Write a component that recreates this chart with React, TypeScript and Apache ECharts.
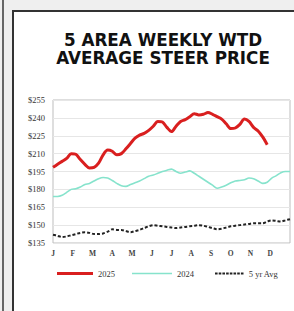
import React, { useEffect, useRef } from "react";
import * as echarts from "echarts";

const titleLines = ["5 AREA WEEKLY WTD", "AVERAGE STEER PRICE"];
const months = ["J", "F", "M", "A", "M", "J", "J", "A", "S", "O", "N", "D"];
const yTicks = [135, 150, 165, 180, 195, 210, 225, 240, 255];

// weekly values, week index 0..
const y2025 = [198.5, 201, 203.5, 206, 210, 209.5, 205, 201, 198, 198.5, 202, 209, 213, 212, 209, 210, 214, 218.5, 223, 225.5, 227, 229.5, 233, 237, 236.5, 232, 228.5, 233, 237, 238.5, 241, 243.5, 242.5, 243, 244.5, 243, 241, 239, 235, 231, 231.5, 234.5, 239, 237, 232, 229, 224, 217.5];
const y2024 = [174, 174, 175, 177.5, 180, 180.5, 182, 184, 185, 187, 189, 190, 189.5, 187.5, 185, 183, 182.5, 184, 185.5, 187, 189, 191, 192, 193.5, 195, 196, 197, 195, 193.5, 194.5, 195.5, 193.5, 191, 188.5, 186, 183.5, 181, 182, 183.5, 185.5, 187, 187.5, 188, 189.5, 189, 187, 185, 186, 189.5, 191.5, 194, 195, 195];
const y5yr = [142, 141, 140, 140.5, 141.5, 142.5, 143.5, 144, 143.5, 142.5, 142.5, 143, 144.5, 146.5, 146, 146, 145, 144, 145, 146, 147.5, 149, 150, 149.5, 149, 148.5, 148, 147.5, 148, 148.5, 149, 149.5, 150, 149.5, 148.5, 147.5, 146.5, 147, 148, 149, 149.5, 150, 150.5, 151, 151.5, 151.5, 151.5, 153, 154, 153.5, 153, 154, 155];

const toPts = (a: number[]) => a.map((v, i) => [i, v]);

// legend icons
const solidIcon = "path://M0,0H36V3H0Z";
const thinIcon = "path://M0,0H40V1.6H0Z";
const dashIcon = (() => {
  let d = "path://";
  for (let i = 0; i < 8; i++) {
    const x = i * 3.7;
    d += `M${x},0H${x + 2.6}V2H${x}Z`;
  }
  return d;
})();

export default function App() {
  const ref = useRef<HTMLDivElement>(null);
  useEffect(() => {
    document.body.style.margin = "0";
    const chart = echarts.init(ref.current!, null, { renderer: "svg" });
    const serif = "'Liberation Serif', 'DejaVu Serif', serif";
    const legendText = { fontFamily: serif, fontSize: 8.5, color: "#333" };
    const titleStyle = {
      fontFamily: "'DejaVu Sans', sans-serif",
      fontWeight: "bold",
      fontSize: 16.8,
      lineHeight: 18.4,
      color: "#111",
    };
    chart.setOption({
      animation: false,
      backgroundColor: "transparent",
      title: titleLines.map((t, i) => ({
        text: t,
        left: 158,
        top: 25.8 + i * 18.4,
        padding: 5,
        textAlign: "center",
        textStyle: titleStyle,
      })),
      grid: {
        left: 53,
        top: 100,
        right: 4,
        bottom: 68,
        show: true,
        borderColor: "#bdbdbd",
        borderWidth: 1,
        backgroundColor: "#fff",
      },
      xAxis: {
        type: "value",
        min: 0,
        max: 52,
        interval: 52 / 12,
        axisLine: { show: false },
        axisTick: { show: false },
        splitLine: { show: false },
        axisLabel: {
          fontFamily: serif,
          fontSize: 7.5,
          fontWeight: "bold",
          color: "#444",
          margin: 6,
          showMaxLabel: false,
          formatter: (v: number) => months[Math.round(v / (52 / 12))] ?? "",
        },
      },
      yAxis: {
        type: "value",
        min: yTicks[0],
        max: yTicks[yTicks.length - 1],
        interval: 15,
        axisLine: { show: false },
        axisTick: { show: false },
        splitLine: { show: true, lineStyle: { color: "#e6e6e6", width: 1 } },
        axisLabel: {
          fontFamily: serif,
          fontSize: 8.5,
          color: "#333",
          margin: 8,
          formatter: (v: number) => "$" + v,
        },
      },
      legend: [
        { left: 52, top: 264, itemWidth: 36, itemHeight: 3, icon: solidIcon, data: ["2025"], textStyle: legendText },
        { left: 127, top: 264, itemWidth: 40, itemHeight: 1.6, icon: thinIcon, data: ["2024"], textStyle: legendText },
        { left: 210, top: 264, itemWidth: 29, itemHeight: 2, icon: dashIcon, data: ["5 yr Avg"], textStyle: legendText },
      ],
      series: [
        {
          name: "5 yr Avg",
          type: "line",
          data: toPts(y5yr),
          symbol: "none",
          smooth: 0.3,
          lineStyle: { color: "#222", width: 2, type: [3, 2] },
          itemStyle: { color: "#222" },
        },
        {
          name: "2024",
          type: "line",
          data: toPts(y2024),
          symbol: "none",
          smooth: 0.3,
          lineStyle: { color: "#86e3cc", width: 1.6 },
          itemStyle: { color: "#86e3cc" },
        },
        {
          name: "2025",
          type: "line",
          data: toPts(y2025),
          symbol: "none",
          smooth: 0.3,
          lineStyle: { color: "#d91f1f", width: 3 },
          itemStyle: { color: "#d91f1f" },
        },
      ],
    });
    return () => chart.dispose();
  }, []);
  return (
    <div style={{ position: "fixed", left: 0, top: 0, width: 294, height: 311, background: "#efefef", overflow: "hidden" }}>
      <div style={{ position: "absolute", left: 2, top: 0, width: 2, height: 311, background: "#666" }} />
      <div style={{ position: "absolute", left: 12, top: 10, right: 0, bottom: 0, background: "#fff", borderLeft: "2px solid #333", borderTop: "2px solid #333" }} />
      <div ref={ref} style={{ position: "absolute", left: 0, top: 0, width: 294, height: 311 }} />
    </div>
  );
}
